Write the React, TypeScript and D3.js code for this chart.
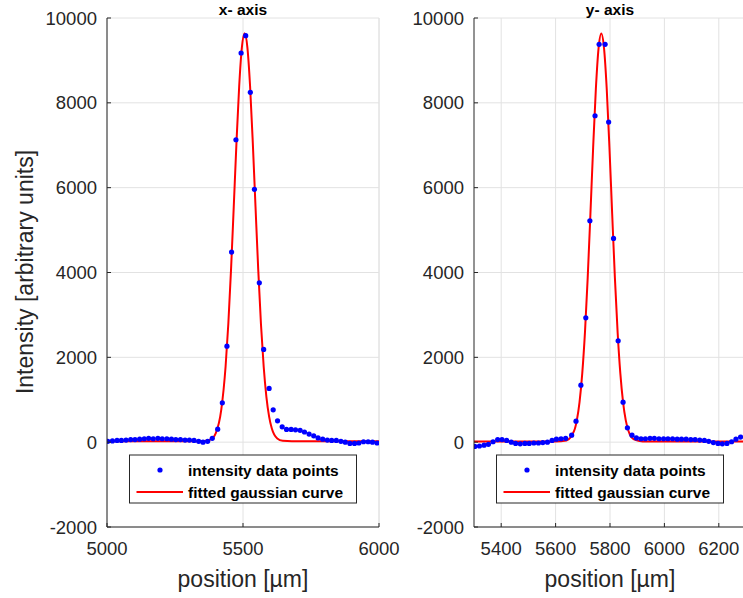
import * as d3 from "d3";

const leftX = [5003, 5020, 5037, 5053, 5070, 5087, 5103, 5120, 5137, 5153, 5170, 5187, 5203, 5220, 5237, 5253, 5270, 5287, 5303, 5320, 5337, 5353, 5370, 5387, 5407, 5424, 5441, 5458, 5474, 5493, 5510, 5527, 5542, 5560, 5576, 5596, 5611, 5627, 5644, 5660, 5677, 5693, 5710, 5726, 5743, 5760, 5776, 5793, 5810, 5826, 5843, 5860, 5876, 5893, 5910, 5926, 5943, 5960, 5976, 5993];
const leftY = [20, 30, 40, 40, 50, 60, 60, 70, 80, 90, 80, 90, 80, 80, 70, 60, 60, 50, 50, 40, 20, 0, 20, 90, 307, 927, 2264, 4481, 7130, 9175, 9583, 8248, 5960, 3757, 2186, 1266, 762, 502, 361, 300, 300, 290, 280, 240, 190, 150, 100, 70, 50, 40, 40, 20, 0, -30, -30, -20, 10, 10, 0, -20];

const rightX = [5303, 5320, 5337, 5353, 5370, 5387, 5403, 5420, 5437, 5453, 5470, 5487, 5503, 5520, 5537, 5553, 5570, 5587, 5603, 5620, 5637, 5659, 5675, 5693, 5711, 5726, 5745, 5760, 5782, 5795, 5813, 5830, 5848, 5864, 5881, 5897, 5914, 5930, 5947, 5963, 5980, 5997, 6013, 6030, 6047, 6063, 6080, 6097, 6113, 6130, 6147, 6163, 6180, 6197, 6213, 6230, 6247, 6263, 6280, 6297];
const rightY = [-100, -90, -70, -50, 10, 60, 60, 40, 0, -30, -40, -30, -30, -20, -20, -10, 0, 40, 70, 80, 90, 165, 495, 1344, 2931, 5219, 7696, 9380, 9380, 7547, 4804, 2389, 943, 337, 165, 100, 80, 80, 90, 90, 80, 80, 80, 80, 70, 70, 70, 60, 60, 50, 40, 20, -10, -30, -40, -30, 10, 70, 120, 130];

// fitted curves, sampled by eye
const leftFitX = [5000, 5100, 5200, 5300, 5350, 5380, 5400, 5420, 5436, 5446, 5456, 5466, 5476, 5486, 5496, 5506, 5516, 5526, 5536, 5546, 5556, 5566, 5576, 5586, 5596, 5606, 5626, 5646, 5680, 5750, 5850, 6000];
const leftFitY = [20, 20, 20, 20, 22, 59, 216, 763, 1783, 2785, 4067, 5549, 7062, 8396, 9313, 9640, 9313, 8396, 7062, 5549, 4067, 2785, 1783, 1070, 602, 321, 86, 31, 20, 20, 20, 20];

const rightFitX = [5300, 5400, 5500, 5600, 5640, 5668, 5678, 5688, 5698, 5708, 5718, 5728, 5738, 5748, 5758, 5768, 5778, 5788, 5798, 5808, 5818, 5828, 5838, 5848, 5858, 5868, 5888, 5920, 6000, 6100, 6200, 6300];
const rightFitY = [15, 15, 15, 15, 39, 264, 514, 944, 1622, 2593, 3873, 5383, 6941, 8327, 9289, 9635, 9289, 8327, 6941, 5383, 3873, 2593, 1622, 944, 514, 264, 65, 17, 15, 15, 15, 15];

const yTicks = [-2000, 0, 2000, 4000, 6000, 8000, 10000];
const leftXTicks = [5000, 5500, 6000];
const rightXTicks = [5400, 5600, 5800, 6000, 6200];

const font = "'Liberation Sans', Arial, Helvetica, sans-serif";
const axisColor = "#262626";
const gridColor = "#e2e2e2";

const top = 18;
const bottom = 527;

function Panel({ id, left, domain, ticks, title, xs, ys, fitX, fitY }) {
  const width = 272;
  const x = d3.scaleLinear().domain(domain).range([left, left + width]);
  const y = d3.scaleLinear().domain([-2000, 10000]).range([bottom, top]);
  const cx = left + width / 2;

  const fit = d3
    .line<number>()
    .x((d) => x(d))
    .y((d, i) => y(fitY[i]))
    .curve(d3.curveMonotoneX);

  return (
    <g>
      <defs>
        <clipPath id={id}>
          <rect x={left} y={top} width={width} height={bottom - top} />
        </clipPath>
      </defs>
      {/* grid */}
      {yTicks.map((t) => (
        <line key={"gy" + t} x1={left} x2={left + width} y1={y(t)} y2={y(t)} stroke={gridColor} />
      ))}
      {ticks.map((t) => (
        <line key={"gx" + t} x1={x(t)} x2={x(t)} y1={top} y2={bottom} stroke={gridColor} />
      ))}
      <line x1={left + width} x2={left + width} y1={top} y2={bottom} stroke={gridColor} />

      <g clipPath={`url(#${id})`}>
        <path d={fit(fitX)} fill="none" stroke="#ff0000" strokeWidth={2} />
        {xs.map((v, i) => (
          <circle key={i} cx={x(v)} cy={y(ys[i])} r={2.6} fill="#0000ff" />
        ))}
      </g>

      {/* axes */}
      <line x1={left} x2={left} y1={top} y2={bottom} stroke={axisColor} />
      <line x1={left} x2={left + width} y1={bottom} y2={bottom} stroke={axisColor} />
      {yTicks.map((t) => (
        <g key={"ty" + t}>
          <line x1={left} x2={left + 4} y1={y(t)} y2={y(t)} stroke={axisColor} />
          <text x={left - 10} y={y(t)} textAnchor="end" dominantBaseline="central" fontSize={18.5} fill={axisColor}>
            {t}
          </text>
        </g>
      ))}
      {ticks.map((t) => (
        <g key={"tx" + t}>
          <line x1={x(t)} x2={x(t)} y1={bottom} y2={bottom - 4} stroke={axisColor} />
          <text x={x(t)} y={548} textAnchor="middle" dominantBaseline="central" fontSize={18.5} fill={axisColor}>
            {t}
          </text>
        </g>
      ))}

      <text x={cx} y={9} textAnchor="middle" dominantBaseline="central" fontSize={15.5} fontWeight="bold" fill="#000">
        {title}
      </text>
      <text x={cx} y={579} textAnchor="middle" dominantBaseline="central" fontSize={23} fill={axisColor}>
        position [µm]
      </text>

      {/* legend */}
      <rect x={cx - 113.5} y={455} width={227} height={48} fill="#fff" stroke={axisColor} />
      <circle cx={cx - 83} cy={470} r={2.6} fill="#0000ff" />
      <line x1={cx - 106.5} x2={cx - 60} y1={492} y2={492} stroke="#ff0000" strokeWidth={2} />
      <text x={cx - 55} y={470} dominantBaseline="central" fontSize={15.5} fontWeight="bold" fill="#000">
        intensity data points
      </text>
      <text x={cx - 55} y={492} dominantBaseline="central" fontSize={15.5} fontWeight="bold" fill="#000">
        fitted gaussian curve
      </text>
    </g>
  );
}

export default function App() {
  return (
    <svg
      width={743}
      height={598}
      style={{ position: "fixed", left: 0, top: 0, background: "#fff" }}
      fontFamily={font}
    >
      <rect width={743} height={598} fill="#fff" />
      <text
        transform="translate(33,272) rotate(-90)"
        textAnchor="middle"
        fontSize={23}
        fill={axisColor}
      >
        Intensity [arbitrary units]
      </text>
      <Panel
        id="clipL"
        left={107}
        domain={[5000, 6000]}
        ticks={leftXTicks}
        title="x- axis"
        xs={leftX}
        ys={leftY}
        fitX={leftFitX}
        fitY={leftFitY}
      />
      <Panel
        id="clipR"
        left={474}
        domain={[5300, 6300]}
        ticks={rightXTicks}
        title="y- axis"
        xs={rightX}
        ys={rightY}
        fitX={rightFitX}
        fitY={rightFitY}
      />
    </svg>
  );
}
